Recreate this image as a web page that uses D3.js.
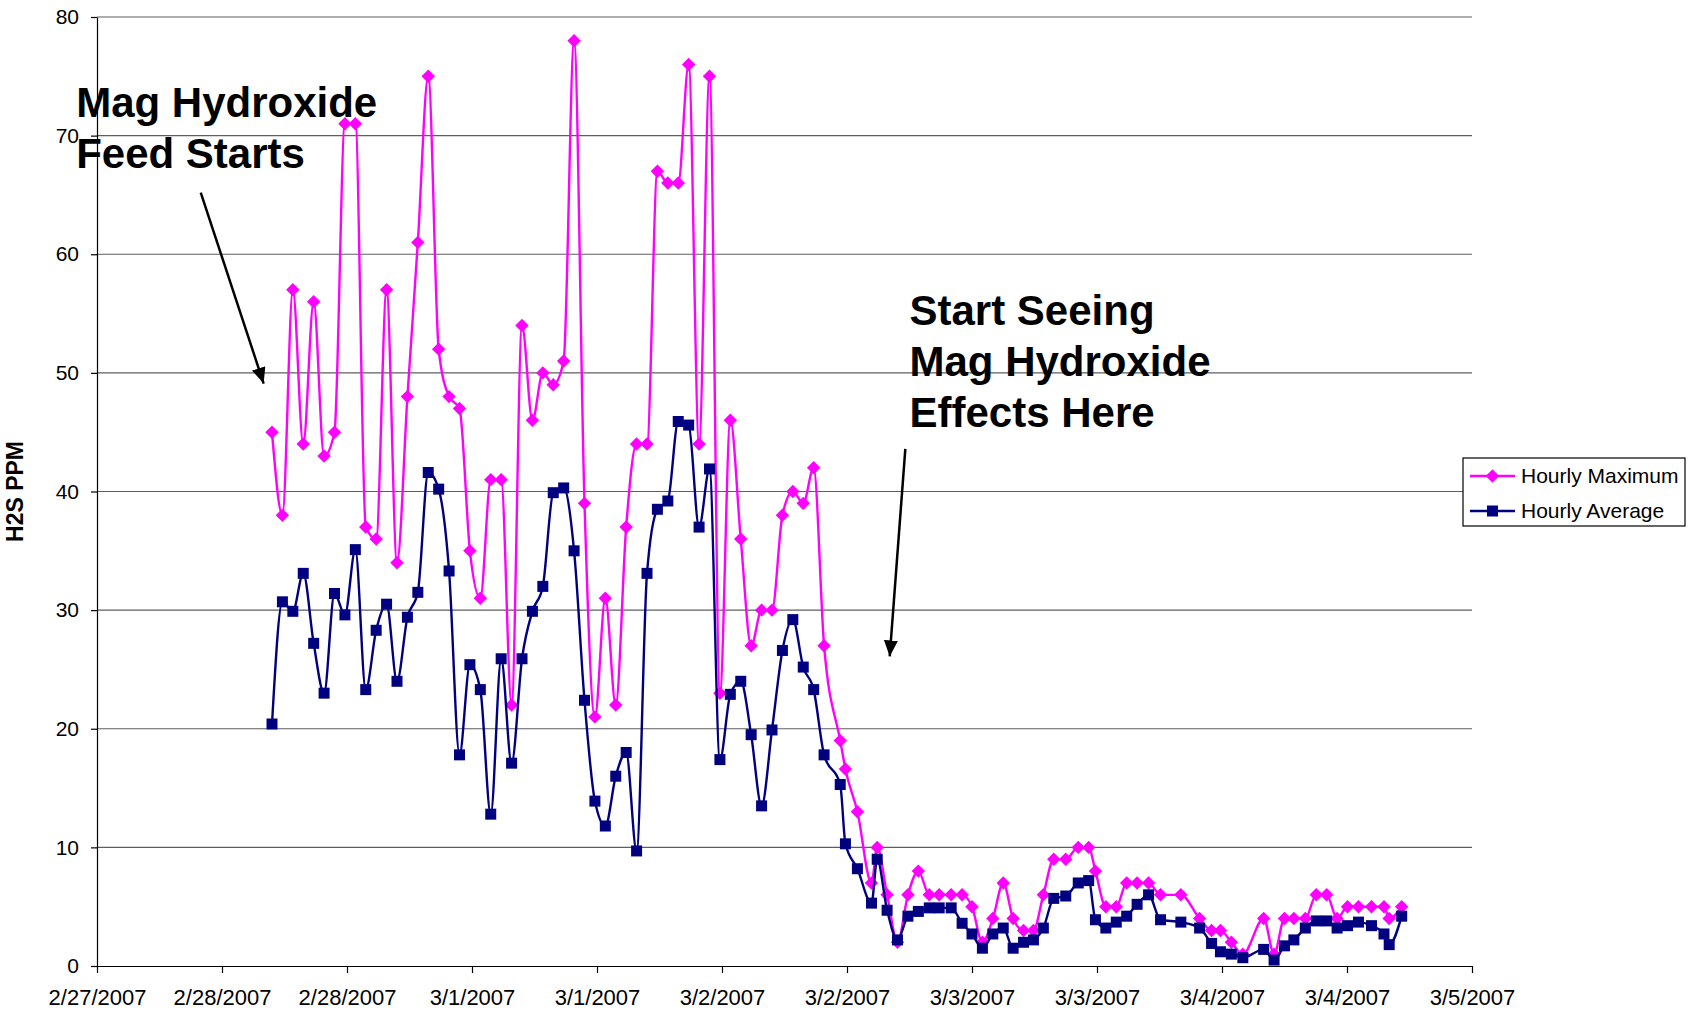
<!DOCTYPE html>
<html>
<head>
<meta charset="utf-8">
<script src="https://cdn.jsdelivr.net/npm/d3@7"></script>
<style>
  body { margin: 0; background: #fff; }
  svg { display: block; font-family: "Liberation Sans", Arial, sans-serif; }
</style>
</head>
<body>
<svg id="chart"></svg>
<script>
const width = 1698;
const height = 1010;
const plotLeft = 97, plotRight = 1472, plotTop = 17, plotBottom = 966;

// hours after the first axis tick (2/27/2007)
const hours = [
  16.8, 17.8, 18.8, 19.8, 20.8, 21.8, 22.8, 23.8, 24.8, 25.8,
  26.8, 27.8, 28.8, 29.8, 30.8, 31.8, 32.8, 33.8, 34.8, 35.8,
  36.8, 37.8, 38.8, 39.8, 40.8, 41.8, 42.8, 43.8, 44.8, 45.8,
  46.8, 47.8, 48.8, 49.8, 50.8, 51.8, 52.8, 53.8, 54.8, 55.8,
  56.8, 57.8, 58.8, 59.8, 60.8, 61.8, 62.8, 63.8, 64.8, 65.8,
  66.8, 67.8, 68.8, 69.8,
  71.35, 71.85, 73.0, 74.35, 74.9, 75.85, 76.85, 77.85, 78.85, 79.9,
  80.85, 82.0, 83.05, 84.0, 85.0, 86.0, 87.0, 87.95, 88.95, 89.9,
  90.85, 91.85, 93.0, 94.2, 95.2, 95.85, 96.85, 97.85, 98.85, 99.85,
  100.95, 102.1, 104.05, 105.85, 107.0, 107.85, 108.9, 110.0, 112.0, 113.0,
  114.0, 114.9, 116.0, 117.05, 118.05, 119.05, 120.05, 121.1, 122.35, 123.55,
  124.05, 125.25
];

const hourlyMax = [
  45, 38, 57, 44, 56, 43, 45, 71, 71, 37,
  36, 57, 34, 48, 61, 75, 52, 48, 47, 35,
  31, 41, 41, 22, 54, 46, 50, 49, 51, 78,
  39, 21, 31, 22, 37, 44, 44, 67, 66, 66,
  76, 44, 75, 23, 46, 36, 27, 30, 30, 38,
  40, 39, 42, 27,
  19, 16.6, 13, 7, 10, 6, 2, 6, 8, 6,
  6, 6, 6, 5, 2, 4, 7, 4, 3, 3,
  6, 9, 9, 10, 10, 8, 5, 5, 7, 7,
  7, 6, 6, 4, 3, 3, 2, 1, 4, 1,
  4, 4, 4, 6, 6, 4, 5, 5, 5, 5,
  4, 5
];

const hourlyAvg = [
  20.4, 30.7, 29.9, 33.1, 27.2, 23.0, 31.4, 29.6, 35.1, 23.3,
  28.3, 30.5, 24.0, 29.4, 31.5, 41.6, 40.2, 33.3, 17.8, 25.4,
  23.3, 12.8, 25.9, 17.1, 25.9, 29.9, 32.0, 39.9, 40.3, 35.0,
  22.4, 13.9, 11.8, 16.0, 18.0, 9.7, 33.1, 38.5, 39.2, 45.9,
  45.6, 37.0, 41.9, 17.4, 22.9, 24.0, 19.5, 13.5, 19.9, 26.6,
  29.2, 25.2, 23.3, 17.8,
  15.3, 10.3, 8.2, 5.3, 9.0, 4.7, 2.2, 4.2, 4.6, 4.9,
  4.9, 4.9, 3.6, 2.7, 1.5, 2.7, 3.2, 1.5, 2.0, 2.2,
  3.2, 5.7, 5.9, 7.0, 7.2, 3.9, 3.2, 3.7, 4.2, 5.2,
  6.0, 3.9, 3.7, 3.2, 1.9, 1.2, 1.0, 0.7, 1.4, 0.5,
  1.7, 2.2, 3.2, 3.8, 3.8, 3.2, 3.4, 3.7, 3.4, 2.7,
  1.8, 4.2
];

const tickHours = [0, 12, 24, 36, 48, 60, 72, 84, 96, 108, 120, 132];
const tickLabels = ['2/27/2007', '2/28/2007', '2/28/2007', '3/1/2007', '3/1/2007', '3/2/2007',
                    '3/2/2007', '3/3/2007', '3/3/2007', '3/4/2007', '3/4/2007', '3/5/2007'];
const yTicks = [0, 10, 20, 30, 40, 50, 60, 70, 80];
const seriesNames = ['Hourly Maximum', 'Hourly Average'];

const svg = d3.select('#chart')
  .attr('width', width)
  .attr('height', height);

svg.append('rect').attr('width', width).attr('height', height).attr('fill', '#fff');

const x = d3.scaleLinear().domain([0, 132]).range([plotLeft, plotRight]);
const y = d3.scaleLinear().domain([0, 80]).range([plotBottom, plotTop]);

// gridlines
svg.append('g').selectAll('line')
  .data(yTicks.filter(d => d > 0))
  .enter().append('line')
  .attr('x1', plotLeft).attr('x2', plotRight)
  .attr('y1', d => y(d)).attr('y2', d => y(d))
  .attr('stroke', '#5e5e5e')
  .attr('stroke-width', 1.2);

const yAxis = svg.append('g')
  .attr('transform', `translate(${plotLeft},0)`)
  .call(d3.axisLeft(y).tickValues(yTicks).tickSize(6).tickSizeOuter(0).tickPadding(12));
yAxis.selectAll('text').attr('font-size', 21).attr('font-family', '"Liberation Sans", Arial, sans-serif').attr('fill', '#000');

const xAxis = svg.append('g')
  .attr('transform', `translate(0,${plotBottom})`)
  .call(d3.axisBottom(x).tickValues(tickHours).tickFormat((d, i) => tickLabels[i]).tickSize(7).tickSizeOuter(0));
xAxis.selectAll('text').attr('font-size', 22).attr('font-family', '"Liberation Sans", Arial, sans-serif').attr('fill', '#000').attr('y', 23);

svg.selectAll('.domain, .tick line').attr('stroke', '#000').attr('stroke-width', 1.2);

svg.append('text')
  .attr('transform', `translate(23,${(plotTop + plotBottom) / 2}) rotate(-90)`)
  .attr('text-anchor', 'middle')
  .attr('font-size', 23)
  .attr('font-weight', 'bold')
  .text('H2S PPM');

const maxData = hours.map((t, i) => ({t: t, v: hourlyMax[i]}));
const avgData = hours.map((t, i) => ({t: t, v: hourlyAvg[i]}));

const line = d3.line()
  .x(d => x(d.t))
  .y(d => y(d.v))
  .curve(d3.curveMonotoneX);

const diamond = d3.symbol().type(d3.symbolDiamond2).size(115);
const square = d3.symbol().type(d3.symbolSquare).size(121);

svg.append('path').datum(maxData)
  .attr('d', line)
  .attr('fill', 'none')
  .attr('stroke', '#ff00ff')
  .attr('stroke-width', 2.4);

svg.append('g').selectAll('path')
  .data(maxData)
  .enter().append('path')
  .attr('d', diamond)
  .attr('transform', d => `translate(${x(d.t)},${y(d.v)})`)
  .attr('fill', '#ff00ff');

svg.append('path').datum(avgData)
  .attr('d', line)
  .attr('fill', 'none')
  .attr('stroke', '#000080')
  .attr('stroke-width', 2.4);

svg.append('g').selectAll('path')
  .data(avgData)
  .enter().append('path')
  .attr('d', square)
  .attr('transform', d => `translate(${x(d.t)},${y(d.v)})`)
  .attr('fill', '#000080');

// annotations
svg.append('defs').append('marker')
  .attr('id', 'arrow')
  .attr('markerUnits', 'userSpaceOnUse')
  .attr('viewBox', '0 0 16 14')
  .attr('refX', 16).attr('refY', 7)
  .attr('markerWidth', 16).attr('markerHeight', 14)
  .attr('orient', 'auto')
  .append('path')
  .attr('d', 'M0,0 L16,7 L0,14 Z')
  .attr('fill', '#000');

const notes = svg.append('g')
  .attr('font-size', 42)
  .attr('font-weight', 'bold')
  .attr('fill', '#000');

notes.append('text').attr('x', x(-2)).attr('y', y(71.6)).text('Mag Hydroxide');
notes.append('text').attr('x', x(-2)).attr('y', y(67.3)).text('Feed Starts');
notes.append('text').attr('x', x(78.0)).attr('y', y(54.0)).text('Start Seeing');
notes.append('text').attr('x', x(78.0)).attr('y', y(49.7)).text('Mag Hydroxide');
notes.append('text').attr('x', x(78.0)).attr('y', y(45.4)).text('Effects Here');

svg.append('line')
  .attr('x1', x(9.96)).attr('y1', y(65.2))
  .attr('x2', x(16.0)).attr('y2', y(49.1))
  .attr('stroke', '#000').attr('stroke-width', 2.5)
  .attr('marker-end', 'url(#arrow)');

svg.append('line')
  .attr('x1', x(77.6)).attr('y1', y(43.6))
  .attr('x2', x(76.1)).attr('y2', y(26.1))
  .attr('stroke', '#000').attr('stroke-width', 2.5)
  .attr('marker-end', 'url(#arrow)');

// legend
const legend = svg.append('g').attr('transform', 'translate(1463,458)');
legend.append('rect')
  .attr('width', 222).attr('height', 68)
  .attr('fill', '#fff').attr('stroke', '#000').attr('stroke-width', 1.2);

const legendColors = ['#ff00ff', '#000080'];
const legendSymbols = [diamond, square];
seriesNames.forEach((name, i) => {
  const row = legend.append('g').attr('transform', `translate(0,${18 + i * 35})`);
  row.append('line').attr('x1', 7).attr('x2', 52).attr('stroke', legendColors[i]).attr('stroke-width', 2.4);
  row.append('path').attr('d', legendSymbols[i]).attr('transform', 'translate(29.5,0)').attr('fill', legendColors[i]);
  row.append('text').attr('x', 58).attr('dy', '0.35em').attr('font-size', 21).text(name);
});
</script>
</body>
</html>
